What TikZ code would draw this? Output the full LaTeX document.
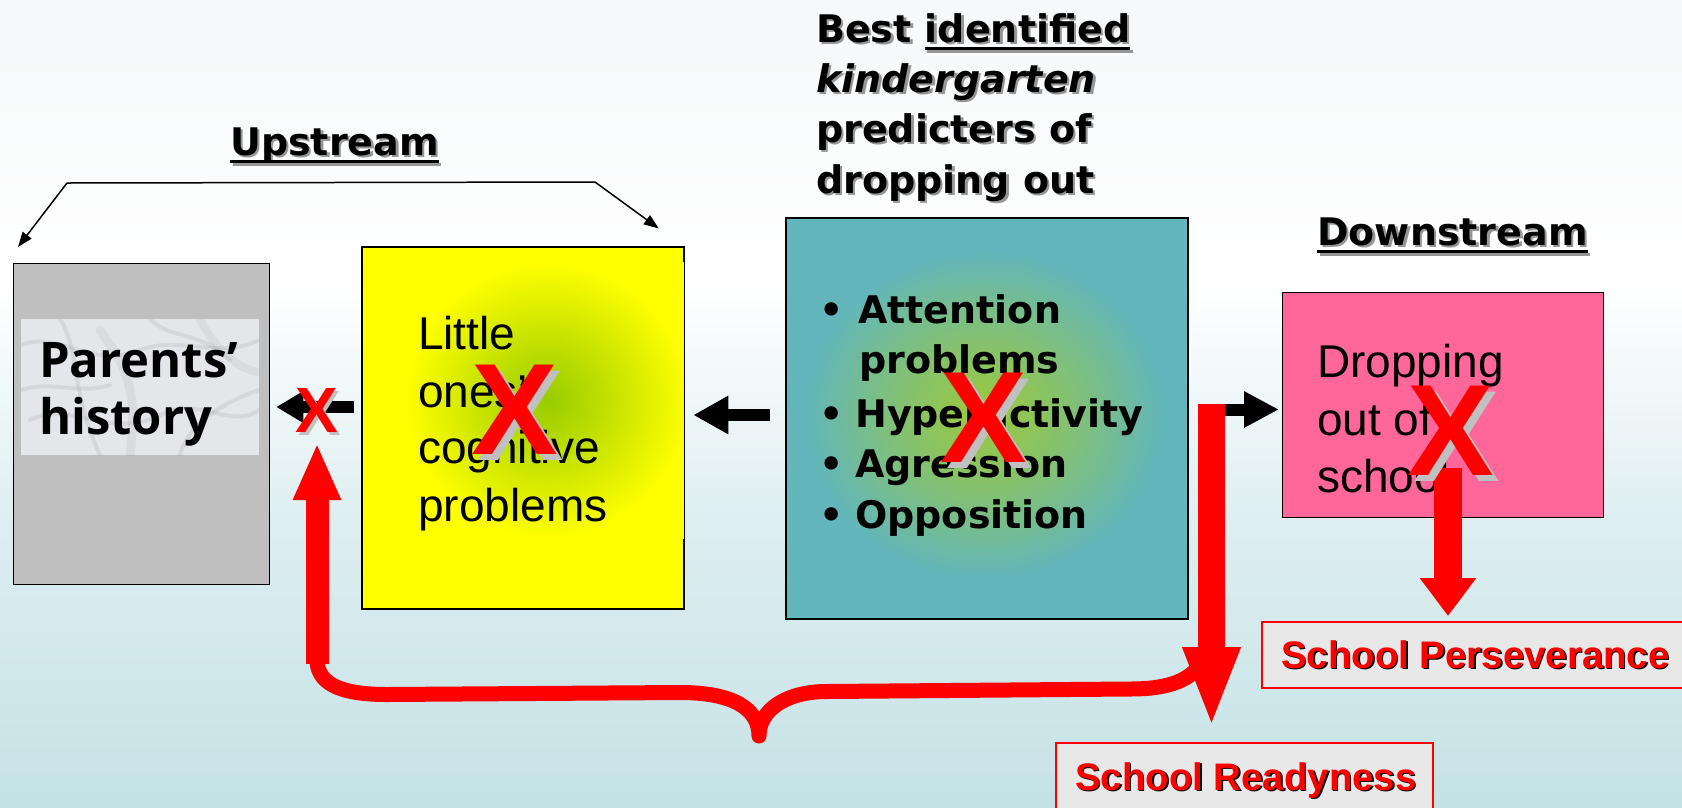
\documentclass[tikz,border=0pt]{standalone}
\usepackage{fontspec}
\setmainfont{DejaVu Sans}
\newfontfamily\arialish{Liberation Sans}
\newfontfamily\humanist{Open Sans}
\usetikzlibrary{arrows.meta,calc}

\definecolor{bgbottom}{RGB}{196,226,230}
\definecolor{bgmid}{RGB}{222,238,240}
\definecolor{bgtop}{RGB}{246,248,249}
\definecolor{boxgray}{RGB}{191,191,191}
\definecolor{marble}{RGB}{228,230,233}
\definecolor{kidyellow}{RGB}{255,255,0}
\definecolor{kidgreen}{RGB}{153,204,0}
\definecolor{predteal}{RGB}{98,182,188}
\definecolor{predgreen}{RGB}{156,201,59}
\definecolor{droppink}{RGB}{255,102,153}
\definecolor{labelgray}{RGB}{232,232,232}
\definecolor{xshadow}{RGB}{192,192,192}
\definecolor{txtshadow}{RGB}{150,150,150}

% shadings: the middle 50bp band is stretched over the shaded path
\pgfdeclareverticalshading{pagebg}{100bp}{color(0bp)=(bgbottom); color(25bp)=(bgbottom); color(42.5bp)=(bgmid); color(57.5bp)=(white); color(75bp)=(bgtop); color(100bp)=(bgtop)}
\pgfdeclareradialshading{yellowglow}{\pgfpoint{0bp}{0bp}}{color(0bp)=(kidgreen); color(8bp)=(kidgreen!70!kidyellow); color(25bp)=(kidyellow); color(50bp)=(kidyellow)}
\pgfdeclareradialshading{tealglow}{\pgfpoint{0bp}{0bp}}{color(0bp)=(predgreen); color(10bp)=(predgreen!65!predteal); color(25bp)=(predteal); color(50bp)=(predteal)}

% text with a drop shadow: [offset]{shadow colour}{text}
\newcommand\shd[3][2.5pt]{\leavevmode\rlap{\kern#1\raisebox{-#1}[0pt][0pt]{\color{#2}#3}}#3}
% thick underline
\newcommand\ulx[1]{\setbox0\hbox{#1}\rlap{\rule[-8pt]{\wd0}{3pt}}\box0}

\tikzset{
  box/.style={draw=black, line width=1.3pt, inner sep=0pt, anchor=north west},
  edge/.style={draw=black, line width=1.3pt},
  labelbox/.style={draw=red, line width=2pt, fill=labelgray, inner sep=0pt, anchor=north west},
  txt/.style={inner sep=0pt, anchor=base west},
  heading/.style={inner sep=0pt, anchor=base, font=\bfseries\fontsize{38}{46}\selectfont},
  bodytxt/.style={txt, font=\arialish\fontsize{46}{56}\selectfont},
  itemtxt/.style={txt, font=\bfseries\fontsize{38}{50}\selectfont},
  redlabel/.style={txt, text=red, font=\arialish\bfseries\fontsize{38.4}{40}\selectfont},
  bigx/.style={inner sep=0pt, anchor=base, text=red, font=\arialish\bfseries\fontsize{130}{130}\selectfont},
  smallx/.style={inner sep=0pt, anchor=base, text=red, font=\arialish\bfseries\fontsize{64}{64}\selectfont},
  blk/.style={draw=black, line width=12pt},
  thinarrow/.style={draw=black, line width=1.5pt, {Triangle[length=15pt,width=11pt]}-{Triangle[length=15pt,width=11pt]}},
  redarrow/.style={draw=red, line width=#1},
  brace/.style={draw=red, line width=15pt, line cap=round, line join=round},
  vein/.style={draw=gray, line width=4pt, opacity=0.14, line cap=round}
}

\begin{document}
\begin{tikzpicture}[x=1pt,y=-1pt]
\useasboundingbox (0,0) rectangle (1682,807);
\clip (0,0) rectangle (1682,807);
\shade[shading=pagebg] (0,0) rectangle (1682,807);

% ---------- boxes ----------
\node[box, fill=boxgray, minimum width=256pt, minimum height=321pt] (par) at (13,263) {};
\node[box, fill=kidyellow, minimum width=321pt, minimum height=361pt] (yel) at (362,247) {};
\node[box, fill=predteal, minimum width=401pt, minimum height=400pt] (teal) at (786,218) {};
\node[box, fill=droppink, minimum width=321pt, minimum height=225pt] (pink) at (1282,292) {};
\node[labelbox, minimum width=440pt, minimum height=66pt] (sp) at (1261,621) {};
\node[labelbox, minimum width=377pt, minimum height=90pt] (sr) at (1055,742) {};

% glows inside the yellow and teal boxes, then their frames again on top
\begin{scope}
  \clip (yel.north west) rectangle (yel.south east);
  \shade[shading=yellowglow] (405,262) rectangle (689,538);
\end{scope}
\begin{scope}
  \clip (teal.north west) rectangle (teal.south east);
  \shade[shading=tealglow] (804,250) rectangle (1164,580);
\end{scope}
\draw[edge] (yel.north west) rectangle (yel.south east);
\draw[edge] (teal.north west) rectangle (teal.south east);

% marble picture behind the parents' label
\node[inner sep=0pt, anchor=north west, fill=marble, minimum width=238pt, minimum height=136pt] (patch) at (21,319) {};
\begin{scope}
  \clip (patch.north west) rectangle (patch.south east);
  \draw[vein] (21,345) .. controls (60,330) and (90,370) .. (140,350) .. controls (180,335) and (220,360) .. (259,340);
  \draw[vein] (30,420) .. controls (70,400) and (110,440) .. (160,415) .. controls (200,395) and (230,430) .. (259,410);
  \draw[vein] (60,319) .. controls (80,350) and (70,390) .. (100,455);
  \draw[vein] (150,319) .. controls (170,340) and (200,330) .. (230,360);
  \draw[vein] (21,390) .. controls (50,380) and (80,395) .. (110,385);
  \draw[vein] (180,455) .. controls (190,420) and (230,400) .. (259,390);
  \draw[vein, opacity=0.1, line width=9pt] (100,330) .. controls (120,360) and (140,380) .. (130,455);
  \draw[vein, opacity=0.1, line width=8pt] (200,319) .. controls (215,350) and (240,370) .. (259,372);
\end{scope}

% ---------- headings ----------
\node[heading] (up) at (334.5,155) {\shd{txtshadow}{\ulx{Upstream}}};
\node[heading] (down) at (1452.5,245) {\shd{txtshadow}{\ulx{Downstream}}};
\node[txt, font=\bfseries\fontsize{38}{46}\selectfont] (t1) at (816,42) {\shd{txtshadow}{Best \ulx{identified}}};
\node[txt, font=\bfseries\itshape\fontsize{38}{46}\selectfont] (t2) at (816,92) {\shd{txtshadow}{kindergarten}};
\node[txt, font=\bfseries\fontsize{38}{46}\selectfont] (t3) at (816,142) {\shd{txtshadow}{predicters of}};
\node[txt, font=\bfseries\fontsize{38}{46}\selectfont] (t4) at (816,193) {\shd{txtshadow}{dropping out}};

% ---------- box texts ----------
\node[txt, font=\humanist\bfseries\fontsize{49}{56}\selectfont] (pa1) at (39,377) {Parents’};
\node[txt, font=\humanist\bfseries\fontsize{49}{56}\selectfont] (pa2) at (39,434) {history};

\node[bodytxt] (ye1) at (418,349) {Little};
\node[bodytxt] (ye2) at (418,407) {ones’};
\node[bodytxt] (ye3) at (418,463) {cognitive};
\node[bodytxt] (ye4) at (418,521) {problems};

\node[itemtxt, anchor=base] (b1) at (832,323) {•};
\node[itemtxt] (it1) at (858,323) {Attention};
\node[itemtxt] (it1b) at (859,373) {problems};
\node[itemtxt, anchor=base] (b2) at (832,427) {•};
\node[itemtxt] (it2) at (855,427) {Hyperactivity};
\node[itemtxt, anchor=base] (b3) at (832,477) {•};
\node[itemtxt] (it3) at (855,477) {Agression};
\node[itemtxt, anchor=base] (b4) at (832,528) {•};
\node[itemtxt] (it4) at (855,528) {Opposition};

\node[bodytxt] (pk1) at (1317,377) {Dropping};
\node[bodytxt] (pk2) at (1317,435) {out of};
\node[bodytxt] (pk3) at (1317,492) {school};

\node[redlabel] (sptxt) at (1281,668) {\shd[1.5pt]{black}{School Perseverance}};
\node[redlabel] (srtxt) at (1075,790) {\shd[1.5pt]{black}{School Readyness}};

% ---------- black connectors ----------
\coordinate (ya) at (0,407);
\coordinate (yb) at (0,415);
\coordinate (yc) at (0,409.5);
\draw[blk, -{Triangle[length=27pt,width=30pt]}] ($(yel.west |- ya)+(-8,0)$) -- ($(par.east |- ya)+(6,0)$);
\draw[blk, -{Triangle[length=35pt,width=36pt]}] ($(teal.west |- yb)+(-16,0)$) -- ($(yel.east |- yb)+(9,0)$);
\draw[blk, -{Triangle[length=35pt,width=34pt]}] ($(teal.east |- yc)+(13,0)$) -- ($(pink.west |- yc)+(-3,0)$);

% upstream bracket
\coordinate (brl) at ($(par.north west)+(5,-16)$);
\coordinate (brr) at ($(yel.north east)+(-25.5,-18.5)$);
\draw[thinarrow] (brl) -- (67,183) -- (595,182) -- (brr);

% ---------- red brace and arrows ----------
\draw[brace] (317,650) -- (317,662) .. controls (319,686) and (345,694.5) .. (387,694.5)
  -- (680,692.5) .. controls (732,692.5) and (759,708) .. (759,736)
  .. controls (759,710) and (786,691.5) .. (827,691.5)
  -- (1130,689) .. controls (1170,689) and (1192,680) .. (1203,660);
\coordinate (upfoot) at (317,664);
\coordinate (uptip) at (317,443);
\draw[redarrow=23pt, -{Triangle[length=57pt,width=44pt]}] (upfoot) -- (uptip);
\coordinate (rdtop) at (1211.5,404);
\coordinate (rdtip) at (1211.5,728);
\draw[redarrow=27pt, -{Triangle[length=81pt,width=52pt]}] (rdtop) -- (rdtip);
\coordinate (pdtop) at (1448,468);
\coordinate (pdtip) at ($(sp.north -| pdtop)+(0,-5)$);
\draw[redarrow=28pt, -{Triangle[length=38pt,width=54pt]}] (pdtop) -- (pdtip);

% ---------- crosses ----------
\node[smallx] (xpar) at (316.5,432) {\shd[3pt]{xshadow}{X}};
\node[bigx] (xyel) at (514.5,454) {\shd[6pt]{xshadow}{X}};
\node[bigx] (xteal) at (984,462) {\shd[6pt]{xshadow}{X}};
\node[bigx] (xpink) at (1450.5,475) {\shd[6pt]{xshadow}{X}};
\end{tikzpicture}
\end{document}
